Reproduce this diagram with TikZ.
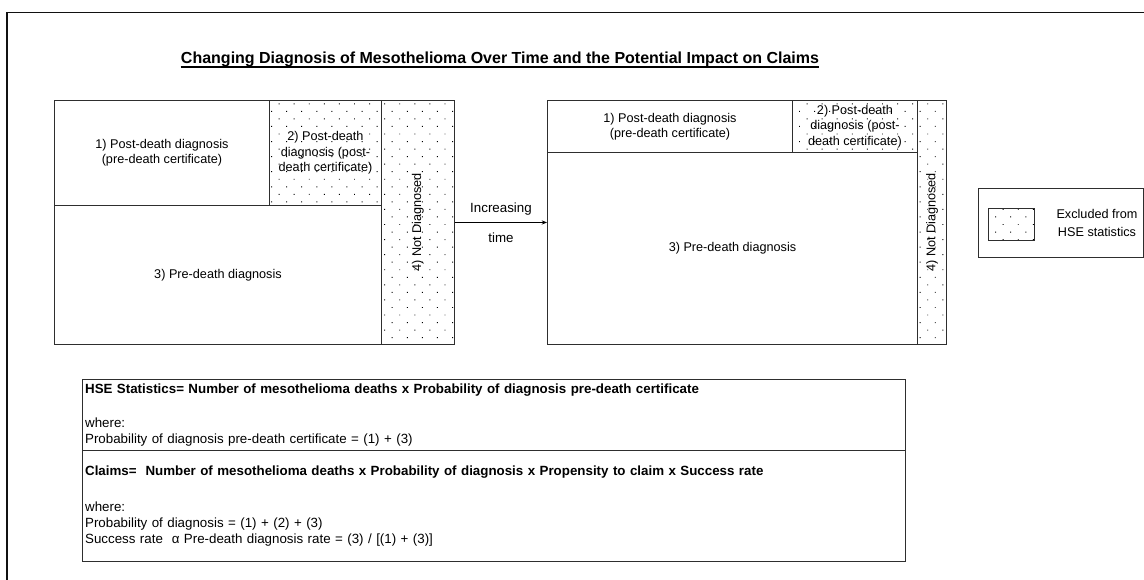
\documentclass[tikz,border=0pt]{standalone}
\usepackage{fontspec}
\setmainfont{Liberation Sans}
\usetikzlibrary{arrows.meta, positioning, patterns.meta}
\definecolor{frameBlack}{HTML}{111111}
\definecolor{lineGrey}{HTML}{2E2E2E}
\newcommand{\formulaBold}{\bfseries}

\begin{document}
\begin{tikzpicture}[x=0.75pt, y=-0.75pt,
  every node/.style={font=\fontsize{9.5}{11.5}\selectfont},
  part/.style={draw=lineGrey, line width=0.7pt, anchor=north west, align=center, inner sep=1pt},
  sz/.style 2 args={minimum width=#1*0.75pt, minimum height=#2*0.75pt},
  excluded/.style={pattern={Dots[angle=45, distance=8pt, radius=0.5pt]}},
  formula/.style={draw=lineGrey, line width=0.7pt, anchor=north west, align=left,
                  text width=613pt, inner xsep=2pt, inner ysep=0.5pt, font=\fontsize{10}{11.8}\selectfont},
  arrow/.style={-{Stealth[length=4pt, width=3.2pt]}, line width=0.6pt}
]
\useasboundingbox (0,0) rectangle (1144,579);
\draw[frameBlack, line width=0.9pt] (7,600) |- (1160,12.5);

% title
\node[font=\fontsize{12}{14}\selectfont\bfseries, inner sep=0pt] (title) at (500,59)
  {Changing Diagnosis of Mesothelioma Over Time and the Potential Impact on Claims};
\draw[line width=1.5pt] ([yshift=-2.8pt]title.base west) -- ([yshift=-2.8pt]title.base east);

% before
\node[part, sz={215}{105}] (lPost) at (54,100) {1) Post-death diagnosis\\(pre-death certificate)};
\node[part, sz={112}{105}, excluded] (lPostCert) at (269,100) {2) Post-death\\diagnosis (post-\\death certificate)};
\node[part, sz={327}{139}] (lPre) at (54,205) {3) Pre-death diagnosis};
\node[part, sz={73}{244}, excluded] (lNot) at (381,100) {};
\node[rotate=90] (lNotText) at (lNot.center) {4) Not Diagnosed};

% after
\node[part, sz={245}{52}] (rPost) at (547,100) {1) Post-death diagnosis\\(pre-death certificate)};
\node[part, sz={125}{52}, excluded] (rPostCert) at (792,100) {2) Post-death\\diagnosis (post-\\death certificate)};
\node[part, sz={370}{192}] (rPre) at (547,152) {3) Pre-death diagnosis};
\node[part, sz={29}{244}, excluded] (rNot) at (917,100) {};
\node[rotate=90] (rNotText) at (rNot.center) {4) Not Diagnosed};

\draw[arrow] (lNot.east) -- node[above=2pt, font=\fontsize{10}{12}\selectfont]{Increasing}
  node[below=4pt, font=\fontsize{10}{12}\selectfont]{time} (lNot.east -| rPre.west);

% legend
\node[part, sz={165}{69}] (lgd) at (978,188) {};
\node[part, sz={46}{32}, excluded] (lgdSwatch) at (988,208) {};
\node[align=center, font=\fontsize{9.5}{13.5}\selectfont] (lgdText) at (1097,222.5) {Excluded from\\HSE statistics};

% formulas
\node[formula, minimum height=71*0.75pt] (fHse) at (82,379)
  {{\formulaBold HSE Statistics= Number of mesothelioma deaths x Probability of diagnosis pre-death certificate}\\[14pt]
   where:\\
   Probability of diagnosis pre-death certificate = (1) + (3)};
\node[formula, minimum height=111*0.75pt] (fClaims) at (82,450)
  {{\formulaBold Claims=\ \ Number of mesothelioma deaths x Probability of diagnosis x Propensity to claim x Success rate}\\[15pt]
   where:\\
   Probability of diagnosis = (1) + (2) + (3)\\
   Success rate\ \ α Pre-death diagnosis rate = (3) / [(1) + (3)]};
\end{tikzpicture}
\end{document}
